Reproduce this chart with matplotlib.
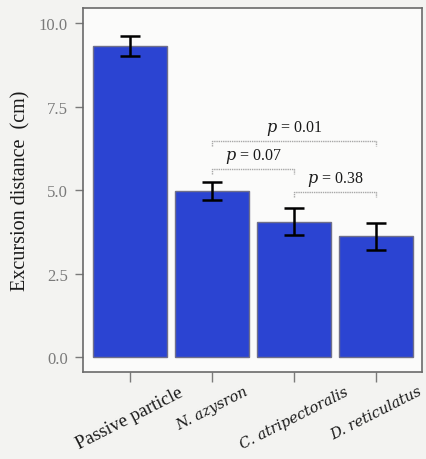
import matplotlib.pyplot as plt
import numpy as np

# mean excursion distance and error (cm)
labels = ["Passive particle", "N. azysron", "C. atripectoralis", "D. reticulatus"]
italic = [False, True, True, True]
means = [9.32, 4.97, 4.05, 3.62]
errors = [0.3, 0.26, 0.4, 0.4]

# pairwise comparisons: (i, j, bracket height, p text)
pairs = [(1, 3, 6.46, "0.01"), (1, 2, 5.62, "0.07"), (2, 3, 4.95, "0.38")]

serif = "Liberation Serif"
grey = "#7a7a7a"

fig = plt.figure(figsize=(4.26, 4.6), dpi=100)
fig.patch.set_facecolor("#f3f3f1")
ax = fig.add_axes([0.195, 0.189, 0.796, 0.791])
ax.set_facecolor("#fbfbfa")

x = np.arange(len(labels))
ax.bar(x, means, width=0.9, color="#2b44d2", edgecolor="#6f6f8a", linewidth=1.0, zorder=2)
ax.errorbar(x, means, yerr=errors, fmt="none", ecolor="black", elinewidth=1.8,
            capsize=7, capthick=1.8, zorder=3)

for i, j, h, p in pairs:
    ax.plot([x[i], x[i], x[j], x[j]], [h - 0.15, h, h, h - 0.15],
            color="#a8a8a8", lw=1.0, ls=(0, (1, 0.6)), zorder=1)
    ax.text((x[i] + x[j]) / 2, h + 0.12, f"$p$ = {p}", ha="center", va="bottom",
            fontsize=11.5, family=serif, color="#1a1a1a", math_fontfamily="dejavuserif")

ax.set_xlim(-0.57, 3.56)
ax.set_ylim(-0.45, 10.45)
ax.set_yticks([0, 2.5, 5.0, 7.5, 10.0])
ax.set_yticklabels(["0.0", "2.5", "5.0", "7.5", "10.0"], family=serif, fontsize=12, color=grey)
ax.set_xticks(x)
ax.set_xticklabels(labels, family=serif, fontsize=13.5, rotation=27, ha="center", color="#1a1a1a")
# species names in a wider italic serif
for lab, it in zip(ax.get_xticklabels(), italic):
    if it:
        lab.set_family("DejaVu Serif")
        lab.set_style("italic")
        lab.set_fontsize(10.5)
ax.tick_params(axis="both", direction="out", color=grey, width=1.0)
ax.tick_params(axis="x", length=7, pad=1.5)
ax.tick_params(axis="y", length=6, pad=5)
for s in ax.spines.values():
    s.set_color("#6a6a6a")
    s.set_linewidth(1.2)

ax.set_ylabel("Excursion distance  (cm)", family=serif, fontsize=14.5, color="#1a1a1a", labelpad=6)

fig.savefig("out.png", dpi=100, facecolor=fig.get_facecolor())
